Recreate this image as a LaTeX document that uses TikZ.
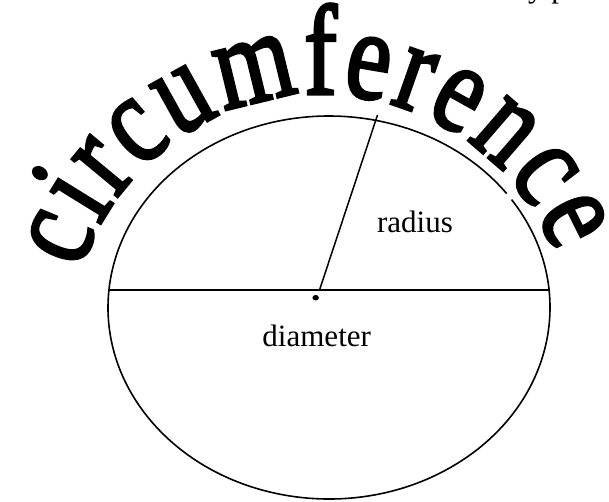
\documentclass[tikz,border=0pt]{standalone}
\usepackage{fontspec}
\setmainfont{Liberation Serif}
\newfontfamily\archfont{Liberation Serif}[FakeBold=2.5]
\usetikzlibrary{decorations.text,shapes.geometric}
\tikzset{
  outline/.style={line width=1.6pt},
  label/.style={font=\fontsize{31}{31}\selectfont, inner sep=0pt, anchor=base},
}
\begin{document}
\begin{tikzpicture}[x=1pt,y=1pt]
\useasboundingbox (0,0) rectangle (609,-501);
\fill[white] (0,0) rectangle (609,-501);
% ellipse (with small gap near the second-to-last letter)
\coordinate (C) at (329,-307.5);
\draw[outline] ([shift={(36.5:221 and 191.5)}]C) arc[start angle=36.5, end angle=394.3, x radius=221, y radius=191.5];
% diameter
\coordinate (L) at (108,-290);
\coordinate (R) at (550,-290);
\draw[line width=1.8pt] (L) -- (R);
% radius
\coordinate (F) at (319.5,-290);
\coordinate (T) at (377.5,-115);
\draw[line width=1.5pt] (F) -- (T);
% centre dot
\node[fill, ellipse, inner sep=0pt, minimum width=6.5pt, minimum height=5.5pt] (dot) at (315.7,-297.7) {};
% labels
\node[label] (rad) at (415,-232) {radius};
\node[label] (dia) at (316.7,-346.7) {diameter};
\node[label, anchor=base west] (cut) at (528,2.5) {y p};
% arched word
\coordinate (TC) at (321,-346);
\path[decorate, decoration={text effects along path, text={circumference}, text align=center,
  text effects/.cd, text along path,
  characters={font=\archfont\fontsize{100}{100}\selectfont, inner ysep=0pt, inner xsep=2pt, yscale=1.28}}]
  ([shift={(168:252)}]TC) arc[start angle=168, end angle=16, radius=252];
\end{tikzpicture}
\end{document}
